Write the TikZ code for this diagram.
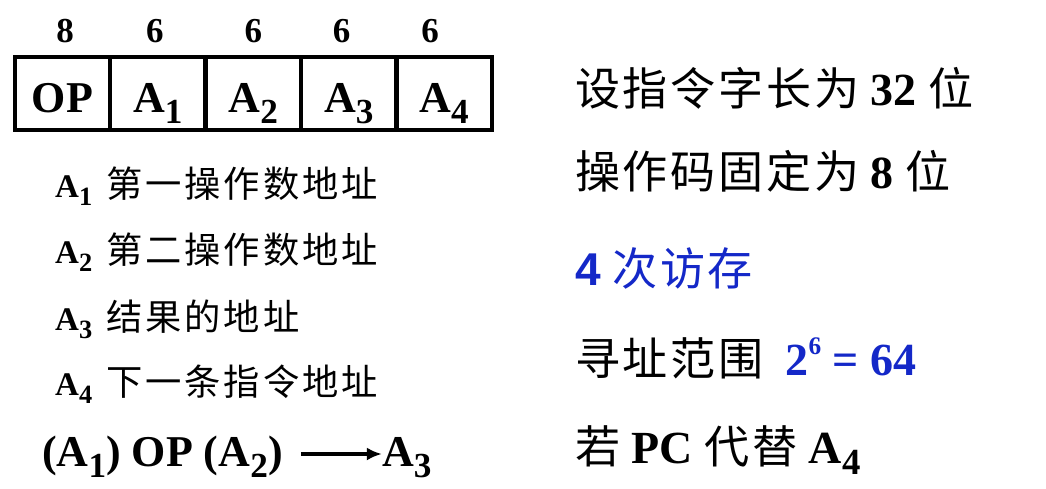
\documentclass[tikz,border=0pt]{standalone}
\usepackage{fontspec}
\usepackage{xcolor}
\usepackage{graphicx}
\usepackage{tikz}
\usetikzlibrary{arrows.meta, positioning}

\setmainfont{Liberation Serif}
\setsansfont{Liberation Sans}
\newfontfamily\cjk[Scale=1.1,LetterSpace=8]{Noto Sans CJK SC}
\newfontfamily\cjkwide[Scale=0.98,LetterSpace=6]{Noto Sans CJK SC}

\definecolor{addrblue}{RGB}{20,40,200}
\newcommand{\zh}[1]{{\cjk\mdseries #1}}
\newcommand{\zhr}[1]{{\cjkwide\mdseries #1}}
\newcommand{\lowidx}[1]{\raisebox{-0.25em}{\scalebox{0.8}{#1}}}
\newcommand{\upidx}[1]{\raisebox{0.45em}{\scalebox{0.55}{#1}}}

\begin{document}
\begin{tikzpicture}[x=1pt, y=-1pt, node distance=95.4pt, >={Latex[length=15pt,width=13pt]}]

    % Define styles
    \tikzstyle{field} = [rectangle, draw=black, line width=4.5pt, minimum width=95.4pt, minimum height=73pt, inner sep=0pt, text height=37pt, text depth=0pt, font=\fontsize{44}{44}\selectfont\bfseries]
    \tikzstyle{bitcount} = [inner sep=0pt, anchor=base, font=\fontsize{35}{35}\selectfont\bfseries]
    \tikzstyle{keyline} = [inner sep=0pt, anchor=base west, font=\fontsize{33}{33}\selectfont\bfseries]
    \tikzstyle{formula} = [inner sep=0pt, anchor=base west, text height=34pt, text depth=10pt, font=\fontsize{44}{44}\selectfont\bfseries]
    \tikzstyle{remark} = [inner sep=0pt, anchor=base west, font=\fontsize{46}{46}\selectfont\bfseries]

    \useasboundingbox (0,0) rectangle (1046,488);

    % Instruction fields
    \node (op) [field] at (62.5,93.5) {OP};
    \node (a1) [field, right of=op] {A\lowidx{1}};
    \node (a2) [field, right of=a1] {A\lowidx{2}};
    \node (a3) [field, right of=a2] {A\lowidx{3}};
    \node (a4) [field, right of=a3] {A\lowidx{4}};

    % Bit counts
    \node (bop) [above=51.5pt of op.center, bitcount, xshift=2.5pt] {8};
    \node (ba1) [above=51.5pt of a1.center, bitcount, xshift=-3pt] {6};
    \node (ba2) [above=51.5pt of a2.center, bitcount] {6};
    \node (ba3) [above=51.5pt of a3.center, bitcount, xshift=-7pt] {6};
    \node (ba4) [above=51.5pt of a4.center, bitcount, xshift=-14pt] {6};

    % Meaning of the addresses
    \node (k1) [keyline] at (55,197) {A\lowidx{1}\hspace{14pt}\zh{第一操作数地址}};
    \node (k2) [below=66pt of k1.base west, keyline] {A\lowidx{2}\hspace{14pt}\zh{第二操作数地址}};
    \node (k3) [below=67pt of k2.base west, keyline] {A\lowidx{3}\hspace{14pt}\zh{结果的地址}};
    \node (k4) [below=65pt of k3.base west, keyline] {A\lowidx{4}\hspace{14pt}\zh{下一条指令地址}};
    \node (expr) [below=71pt of k4.base west, xshift=-13pt, formula] {(A\lowidx{1}) OP (A\lowidx{2})};
    \node (res) [right=99pt of expr.base east, formula] {A\lowidx{3}};

    % Remarks
    \node (r1) [remark] at (575,105) {\zhr{设指令字长为} 32 \zhr{位}};
    \node (r2) [below=83pt of r1.base west, remark] {\zhr{操作码固定为} 8 \zhr{位}};
    \node (r3) [below=97pt of r2.base west, remark, text=addrblue] {{\sffamily 4} \zhr{次访存}};
    \node (r4) [below=90pt of r3.base west, remark] {\zhr{寻址范围}\hspace{22pt}{\color{addrblue}2\upidx{6} = 64}};
    \node (r5) [below=88pt of r4.base west, remark] {\zhr{若} PC \zhr{代替} A\lowidx{4}};

    % Arrows
    \draw [->, line width=4pt, shorten <=18pt] (expr) -- (res);

\end{tikzpicture}
\end{document}
